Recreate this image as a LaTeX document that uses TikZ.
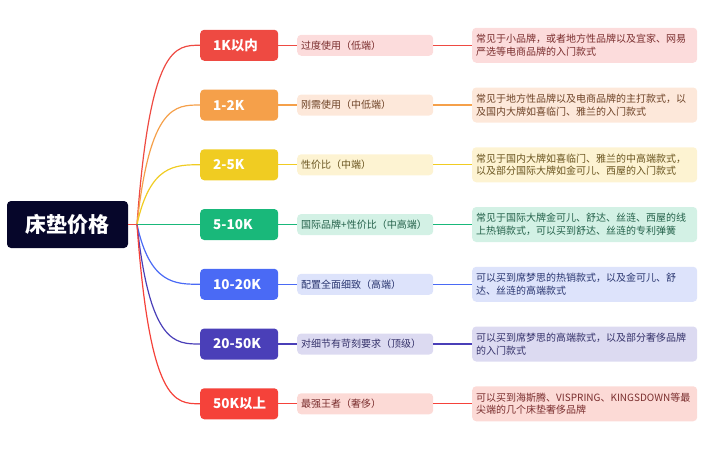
\documentclass[tikz,border=0pt]{standalone}
\usepackage{fontspec}
\setmainfont{Noto Sans CJK SC}
\usetikzlibrary{calc}
\definecolor{rootc}{HTML}{06062A}
\definecolor{cA}{HTML}{EE4A42}\definecolor{lA}{HTML}{FCDCDC}\definecolor{tA}{HTML}{7A2E2E}
\definecolor{cB}{HTML}{F5A04A}\definecolor{lB}{HTML}{FDE8DA}\definecolor{tB}{HTML}{6E4327}
\definecolor{cC}{HTML}{F0CC22}\definecolor{lC}{HTML}{FDF3D2}\definecolor{tC}{HTML}{6A5520}
\definecolor{cD}{HTML}{19B87A}\definecolor{lD}{HTML}{D3F1E5}\definecolor{tD}{HTML}{24614A}
\definecolor{cE}{HTML}{4A6AF5}\definecolor{lE}{HTML}{DDE3FB}\definecolor{tE}{HTML}{2A3670}
\definecolor{cF}{HTML}{4A3FB8}\definecolor{lF}{HTML}{DCDAF1}\definecolor{tF}{HTML}{35326A}
\definecolor{cG}{HTML}{F5423A}\definecolor{lG}{HTML}{FCDAD6}\definecolor{tG}{HTML}{7A2E2E}
\tikzset{
  rootbox/.style={fill=rootc, text=white, rounded corners=4pt, minimum width=121pt, minimum height=47pt, font=\fontsize{21}{24}\selectfont\bfseries, inner sep=0pt},
  lvone/.style={fill=#1, text=white, rounded corners=4pt, minimum height=31pt, text width=52pt, inner xsep=13pt, inner ysep=0pt, align=left, anchor=west, font=\fontsize{13.5}{16}\selectfont\bfseries},
  lvtwo/.style={fill=#1, rounded corners=4pt, minimum height=21pt, text width=128pt, inner xsep=4pt, inner ysep=0pt, align=left, anchor=west, font=\fontsize{10}{12}\selectfont},
  lvthree/.style={fill=#1, rounded corners=4pt, minimum height=35pt, text width=217pt, inner xsep=4pt, inner ysep=0pt, align=left, anchor=west, font=\fontsize{10}{12.5}\selectfont},
  conn/.style={draw=#1, line width=1.2pt},
}
\newcommand{\branch}[6]{%
  % #1 key, #2 y, #3 level1, #4 level2, #5 level3 line1, #6 level3 line2
  \node[lvone=c#1] (one#1) at (200,#2) {#3};
  \node[lvtwo=l#1, text=t#1] (two#1) at (297,#2) {#4};
  \node[lvthree=l#1, text=t#1] (three#1) at (472,#2) {#5\\#6};
  \draw[conn=c#1] (o) .. controls ($(o |- one#1.west)+(13,0)$) and ($(o |- one#1.west)+(38,0)$) .. (one#1.west);
  \draw[conn=c#1] (one#1.east) -- (two#1.west);
  \draw[conn=c#1] (two#1.east) -- (three#1.west);
}
\begin{document}
\begin{tikzpicture}[x=1pt,y=-1pt]
\useasboundingbox (0,0) rectangle (720,448);
\node[rootbox] (root) at (67.5,224.5) {床垫价格};
\coordinate (o) at (137,224.5);
\draw[conn=cA] (root.east) -- (o);
\branch{A}{45.25}{1K以内}{过度使用（低端）}{常见于小品牌，或者地方性品牌以及宜家、网易}{严选等电商品牌的入门款式}
\branch{B}{105}{1-2K}{刚需使用（中低端）}{常见于地方性品牌以及电商品牌的主打款式，以}{及国内大牌如喜临门、雅兰的入门款式}
\branch{C}{164.75}{2-5K}{性价比（中端）}{常见于国内大牌如喜临门、雅兰的中高端款式，}{以及部分国际大牌如金可儿、西屋的入门款式}
\branch{D}{224.5}{5-10K}{国际品牌+性价比（中高端）}{常见于国际大牌金可儿、舒达、丝涟、西屋的线}{上热销款式，可以买到舒达、丝涟的专利弹簧}
\branch{E}{284.25}{10-20K}{配置全面细致（高端）}{可以买到席梦思的热销款式，以及金可儿、舒}{达、丝涟的高端款式}
\branch{F}{344}{20-50K}{对细节有苛刻要求（顶级）}{可以买到席梦思的高端款式，以及部分奢侈品牌}{的入门款式}
\branch{G}{403.75}{50K以上}{最强王者（奢侈）}{可以买到海斯腾、VISPRING、KINGSDOWN等最}{尖端的几个床垫奢侈品牌}
\end{tikzpicture}
\end{document}
